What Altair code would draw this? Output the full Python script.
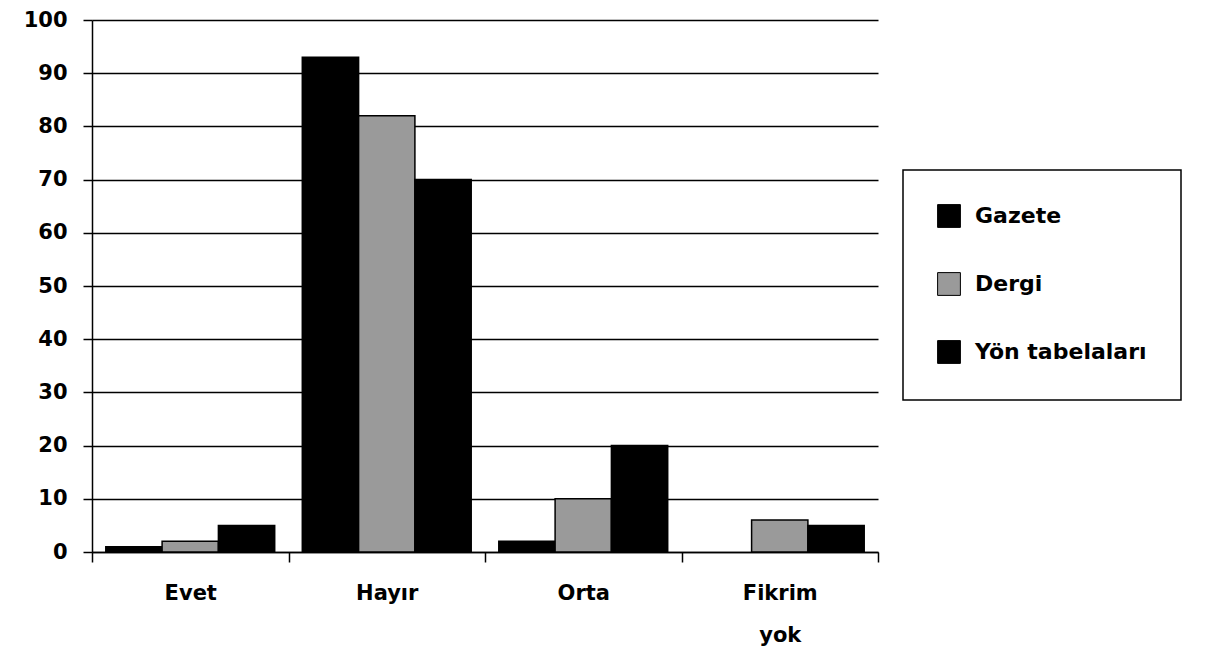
import altair as alt
import pandas as pd

categories = ["Evet", "Hayır", "Orta", "Fikrim yok"]
series = ["Gazete", "Dergi", "Yön tabelaları"]
gazete = [1, 93, 2, 0]
dergi = [2, 82, 10, 6]
yon = [5, 70, 20, 5]
y_ticks = [0, 10, 20, 30, 40, 50, 60, 70, 80, 90, 100]

rows = []
for name, vals in zip(series, [gazete, dergi, yon]):
    for c, v in zip(categories, vals):
        rows.append({"Kategori": c, "Seri": name, "Deger": v})
df = pd.DataFrame(rows)

FONT = "DejaVu Sans"

chart = alt.Chart(df).mark_bar(stroke="black", strokeWidth=1.5).encode(
    x=alt.X("Kategori:N", sort=categories,
            scale=alt.Scale(paddingInner=0, paddingOuter=0),
            axis=alt.Axis(title=None, labelAngle=0, grid=False, tickBand="extent",
                          tickSize=10, tickColor="black", tickWidth=1.5,
                          domainColor="black", domainWidth=1.5,
                          labelFont=FONT, labelFontSize=21, labelFontWeight="bold",
                          labelColor="black", labelPadding=20, labelLineHeight=42,
                          labelExpr="datum.label == 'Fikrim yok' ? ['Fikrim', 'yok'] : datum.label")),
    xOffset=alt.XOffset("Seri:N", sort=series,
                        scale=alt.Scale(paddingInner=0, paddingOuter=0.245)),
    y=alt.Y("Deger:Q", scale=alt.Scale(domain=[0, 100], nice=False),
            axis=alt.Axis(title=None, values=y_ticks, grid=True, gridColor="black",
                          gridWidth=1.5, gridOpacity=1, tickSize=9, tickColor="black",
                          tickWidth=1.5, domainColor="black", domainWidth=1.5,
                          labelFont=FONT, labelFontSize=21, labelFontWeight="bold",
                          labelColor="black", labelPadding=16)),
    color=alt.Color("Seri:N", sort=series,
                    scale=alt.Scale(domain=series, range=["#000000", "#9a9a9a", "#000000"]),
                    legend=alt.Legend(title=None, orient="none", legendX=811, legendY=150,
                                      symbolType="square", symbolSize=520,
                                      symbolStrokeColor="black", symbolStrokeWidth=1,
                                      labelFont=FONT, labelFontSize=22, labelFontWeight="bold",
                                      labelColor="black", labelOffset=14, labelLimit=400,
                                      rowPadding=40, padding=34,
                                      strokeColor="black", fillColor="white")),
    strokeOpacity=alt.condition("datum.Deger > 0", alt.value(1), alt.value(0)),
).properties(
    width=786, height=532,
    autosize=alt.AutoSizeParams(type="none"),
    padding={"left": 84, "top": 12, "right": 345, "bottom": 98},
).configure_view(stroke=None).configure_legend(strokeWidth=1.5)

chart.save("out.html", embed_options={"renderer": "svg", "actions": False})
